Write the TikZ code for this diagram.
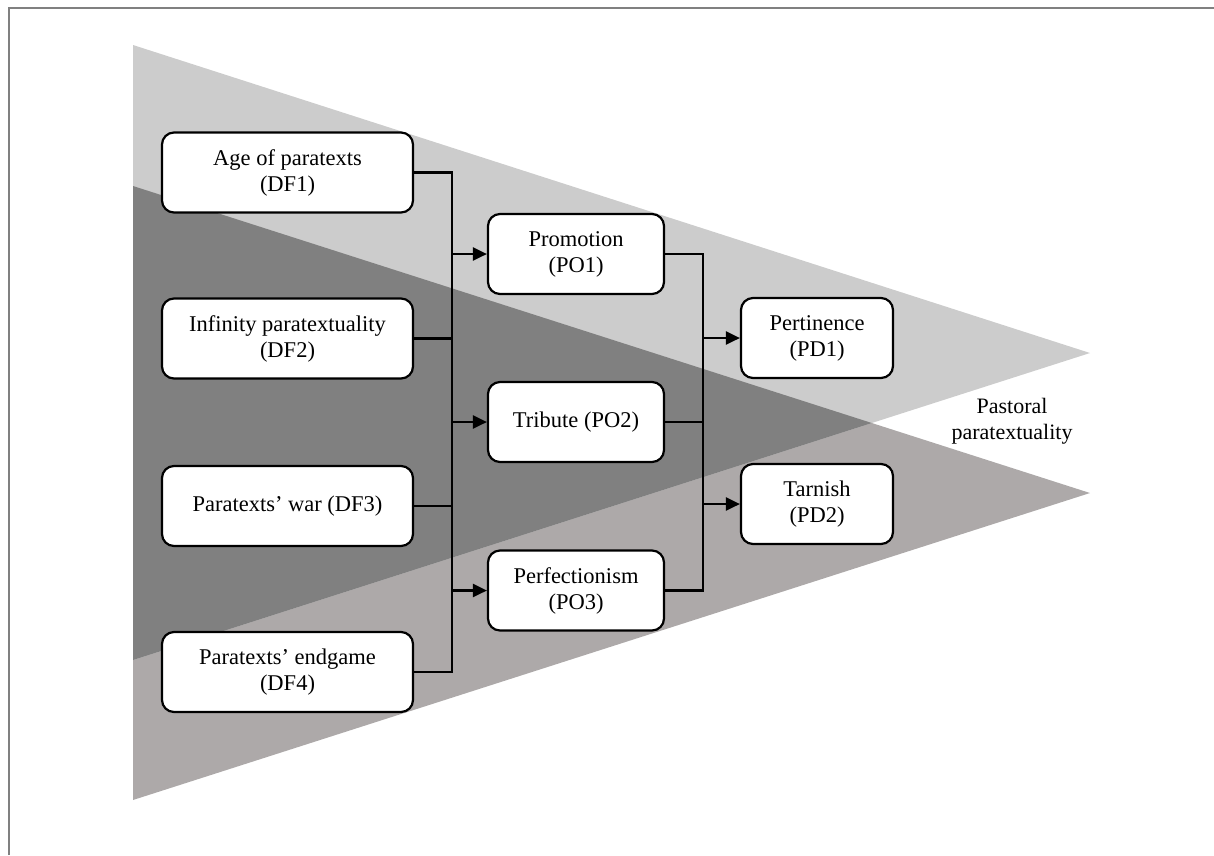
\documentclass[tikz,border=0pt]{standalone}
\usepackage{fontspec}
\setmainfont{Liberation Serif}
\usetikzlibrary{arrows.meta}
\definecolor{lightg}{RGB}{204,204,204}
\definecolor{darkg}{RGB}{128,128,128}
\definecolor{warmg}{RGB}{173,169,169}
\definecolor{framec}{RGB}{128,128,128}
\begin{document}
\begin{tikzpicture}[x=1pt,y=-1pt,
  box/.style={draw=black, line width=2.2pt, rounded corners=12pt, fill=white,
    minimum height=80pt, align=center, inner sep=0pt,
    font=\fontsize{22.5}{26}\selectfont},
  dfbox/.style={box, minimum width=251pt},
  pobox/.style={box, minimum width=176pt},
  pdbox/.style={box, minimum width=152pt},
  wire/.style={draw=black, line width=2.2pt},
  arr/.style={wire, -{Triangle[length=14pt,width=13pt]}}]
\useasboundingbox (0,0) rectangle (1214,855);
% frame
\draw[framec, line width=1.5pt] (9,855) -- (9,8) -- (1214,8);
% triangles
\fill[warmg] (133,186) -- (1090,493) -- (133,800) -- cycle;
\fill[lightg] (133,45) -- (1090,353) -- (133,660) -- cycle;
\begin{scope}
  \clip (133,186) -- (1090,493) -- (133,800) -- cycle;
  \fill[darkg] (133,45) -- (1090,353) -- (133,660) -- cycle;
\end{scope}
% nodes
\node[dfbox] (df1) at (287.5,172.5) {Age of paratexts\\(DF1)};
\node[dfbox] (df2) at (287.5,338.5) {Infinity paratextuality\\(DF2)};
\node[dfbox] (df3) at (287.5,506) {Paratexts’ war (DF3)};
\node[dfbox] (df4) at (287.5,672) {Paratexts’ endgame\\(DF4)};
\node[pobox] (po1) at (576,254) {Promotion\\(PO1)};
\node[pobox] (po2) at (576,422) {Tribute (PO2)};
\node[pobox] (po3) at (576,590.5) {Perfectionism\\(PO3)};
\node[pdbox] (pd1) at (817,338) {Pertinence\\(PD1)};
\node[pdbox] (pd2) at (817,504) {Tarnish\\(PD2)};
\node[align=center, font=\fontsize{22}{26}\selectfont] (lab) at (1012,421) {Pastoral\\paratextuality};
% buses
\coordinate (bus1) at (452,0);
\coordinate (bus2) at (703,0);
\draw[wire] (df1.east) -- (df1.east -| bus1) -- (df4.east -| bus1) -- (df4.east);
\draw[wire] (df2.east) -- (df2.east -| bus1);
\draw[wire] (df3.east) -- (df3.east -| bus1);
\draw[arr] (po1.west -| bus1) -- (po1.west);
\draw[arr] (po2.west -| bus1) -- (po2.west);
\draw[arr] (po3.west -| bus1) -- (po3.west);
\draw[wire] (po1.east) -- (po1.east -| bus2) -- (po3.east -| bus2) -- (po3.east);
\draw[wire] (po2.east) -- (po2.east -| bus2);
\draw[arr] (pd1.west -| bus2) -- (pd1.west);
\draw[arr] (pd2.west -| bus2) -- (pd2.west);
\end{tikzpicture}
\end{document}
